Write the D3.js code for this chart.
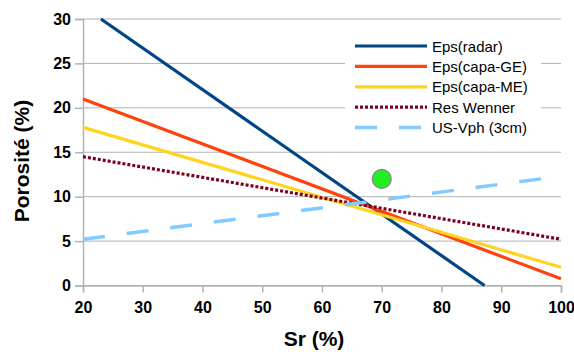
<!DOCTYPE html>
<html><head><meta charset="utf-8">
<script src="https://cdn.jsdelivr.net/npm/d3@7"></script>
<style>body{margin:0;background:#fff}svg{display:block}text{font-family:"Liberation Sans",Arial,sans-serif}</style>
</head><body>
<svg id="c" width="574" height="352"></svg>
<script>
const seriesNames = ["Eps(radar)", "Eps(capa-GE)", "Eps(capa-ME)", "Res Wenner", "US-Vph (3cm)"];
const seriesColors = ["#004586", "#ff420e", "#ffd320", "#7e0021", "#83caff"];
const radar = [[23, 30], [87.2, 0]];
const capaGE = [[20, 21], [100, 0.75]];
const capaME = [[20, 17.8], [100, 2.05]];
const wenner = [[20, 14.5], [100, 5.2]];
const usVph = [[20, 5.2], [100, 12.3]];
const point = [[70, 12]];
const xTicks = [20, 30, 40, 50, 60, 70, 80, 90, 100];
const yTicks = [0, 5, 10, 15, 20, 25, 30];

const svg = d3.select("#c");
const x = d3.scaleLinear().domain([20, 100]).range([83, 561]);
const y = d3.scaleLinear().domain([0, 30]).range([285.5, 19]);
const grid = "#b3b3b3";

// horizontal gridlines
svg.append("g").selectAll("line").data(yTicks).join("line")
  .attr("x1", x(20)).attr("x2", x(100)).attr("y1", d => y(d)).attr("y2", d => y(d))
  .attr("stroke", grid).attr("stroke-width", 1);

// axes
const yAxis = svg.append("g").attr("transform", `translate(${x(20)},0)`)
  .call(d3.axisLeft(y).tickValues(yTicks).tickSize(8).tickPadding(4));
const xAxis = svg.append("g").attr("transform", `translate(0,${y(0)})`)
  .call(d3.axisBottom(x).tickValues(xTicks).tickSize(7).tickPadding(9));
[yAxis, xAxis].forEach(a => {
  a.select(".domain").attr("stroke", grid).attr("stroke-width", 1.5);
  a.selectAll(".tick line").attr("stroke", grid).attr("stroke-width", 1.5);
  a.selectAll(".tick text").attr("fill", "#000").style("font-size", "16px").style("font-weight", "bold")
    .style("font-family", '"Liberation Sans",Arial,sans-serif');
});

// legend background
const lg = svg.append("g");
lg.append("rect").attr("x", 345).attr("y", 31).attr("width", 196).attr("height", 108).attr("fill", "#fff");

// lines
const line = d3.line().x(d => x(d[0])).y(d => y(d[1]));
const data = [radar, capaGE, capaME, wenner, usVph];
const dashes = [null, null, null, "3,2", "22,22"];
const widths = [3.2, 3.2, 3.2, 3.2, 3.5];
data.forEach((d, i) => {
  svg.append("path").datum(d).attr("d", line).attr("fill", "none")
    .attr("stroke", seriesColors[i]).attr("stroke-width", widths[i])
    .attr("stroke-dasharray", dashes[i]);
});

// point
svg.append("g").selectAll("circle").data(point).join("circle")
  .attr("cx", d => x(d[0])).attr("cy", d => y(d[1])).attr("r", 9.5)
  .attr("fill", "#22ee22").attr("stroke", "#888").attr("stroke-width", 1.2);

// legend entries
seriesNames.forEach((n, i) => {
  const yy = 46 + i * 20.4;
  lg.append("line").attr("x1", 355).attr("x2", 427).attr("y1", yy).attr("y2", yy)
    .attr("stroke", seriesColors[i]).attr("stroke-width", widths[i]).attr("stroke-dasharray", dashes[i]);
  lg.append("text").attr("x", 432).attr("y", yy + 5.5).text(n).style("font-size", "15px").attr("fill", "#000");
});

// axis titles
svg.append("text").attr("x", 314).attr("y", 346).attr("text-anchor", "middle")
  .style("font-size", "21px").style("font-weight", "bold").text("Sr (%)");
svg.append("text").attr("transform", "translate(29,161) rotate(-90)").attr("text-anchor", "middle")
  .style("font-size", "21px").style("font-weight", "bold").text("Porosité (%)");
</script>
</body></html>
